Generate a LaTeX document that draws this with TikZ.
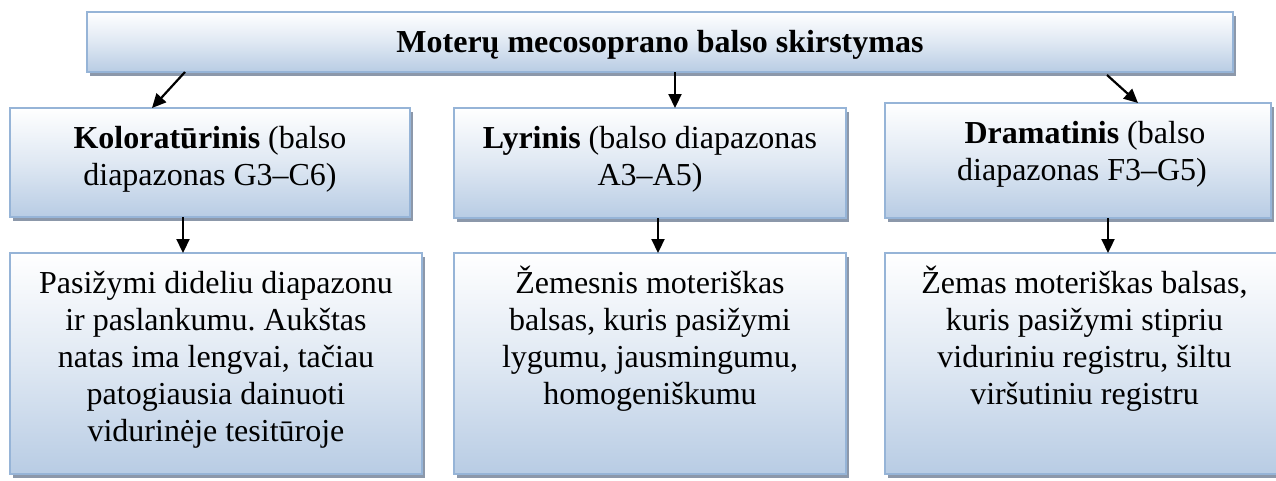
\documentclass[tikz,border=0pt]{standalone}
\usepackage{fontspec}
\setmainfont{Liberation Serif}
\usetikzlibrary{arrows.meta,shadows}
\definecolor{boxblue}{RGB}{184,204,228}
\definecolor{boxline}{RGB}{150,180,215}
\definecolor{shadowgray}{RGB}{140,152,170}
\frenchspacing
\newcommand{\bx}[3]{\parbox[c][#2pt][t]{#1pt}{\centering\fontsize{32}{37}\selectfont\rule{0pt}{40pt}#3\par}}
\tikzset{
  box/.style={rectangle, inner sep=0pt, outer sep=0pt, anchor=north west,
    draw=boxline, line width=2pt, top color=white, bottom color=boxblue,
    middle color=boxblue!45!white,
    drop shadow={shadow xshift=3pt, shadow yshift=-4pt, fill=shadowgray, opacity=1}},
  arr/.style={line width=2.2pt, -{Triangle[length=14pt,width=13pt]}}
}
\begin{document}
\begin{tikzpicture}[x=1pt,y=1pt]
\useasboundingbox (0,0) rectangle (1276,-480);
\node[box] (top) at (87,-12) {\bx{1146}{60}{\textbf{Moterų mecosoprano balso skirstymas}}};
\node[box] (k1) at (10,-108) {\bx{400}{109}{\textbf{Koloratūrinis} (balso\\diapazonas G3–C6)}};
\node[box] (l1) at (454,-108) {\bx{392}{110}{\textbf{Lyrinis} (balso diapazonas\\A3–A5)}};
\node[box] (d1) at (885,-103) {\bx{386}{115}{\hspace*{14pt}\textbf{Dramatinis} (balso\\\hspace*{8pt}diapazonas F3–G5)}};
\node[box] (k2) at (10,-253) {\bx{412}{221}{Pasižymi dideliu diapazonu\\ir paslankumu. Aukštas\\natas ima lengvai, tačiau\\patogiausia dainuoti\\vidurinėje tesitūroje}};
\node[box] (l2) at (454,-253) {\bx{392}{221}{Žemesnis moteriškas\\balsas, kuris pasižymi\\lygumu, jausmingumu,\\homogeniškumu}};
\node[box] (d2) at (885,-253) {\bx{399}{221}{Žemas moteriškas balsas,\\kuris pasižymi stipriu\\viduriniu registru, šiltu\\viršutiniu registru}};
\draw[arr] ([xshift=98pt]top.south west) -- ([xshift=142pt]k1.north west);
\draw[arr] ([xshift=588pt]top.south west) -- ([xshift=221pt]l1.north west);
\draw[arr] ([xshift=1020pt,yshift=-3pt]top.south west) -- ([xshift=253pt]d1.north west);
\draw[arr] ([xshift=173pt]k1.south west) -- ([xshift=173pt]k2.north west);
\draw[arr] ([xshift=204pt]l1.south west) -- ([xshift=204pt]l2.north west);
\draw[arr] ([xshift=223pt]d1.south west) -- ([xshift=223pt]d2.north west);
\end{tikzpicture}
\end{document}
